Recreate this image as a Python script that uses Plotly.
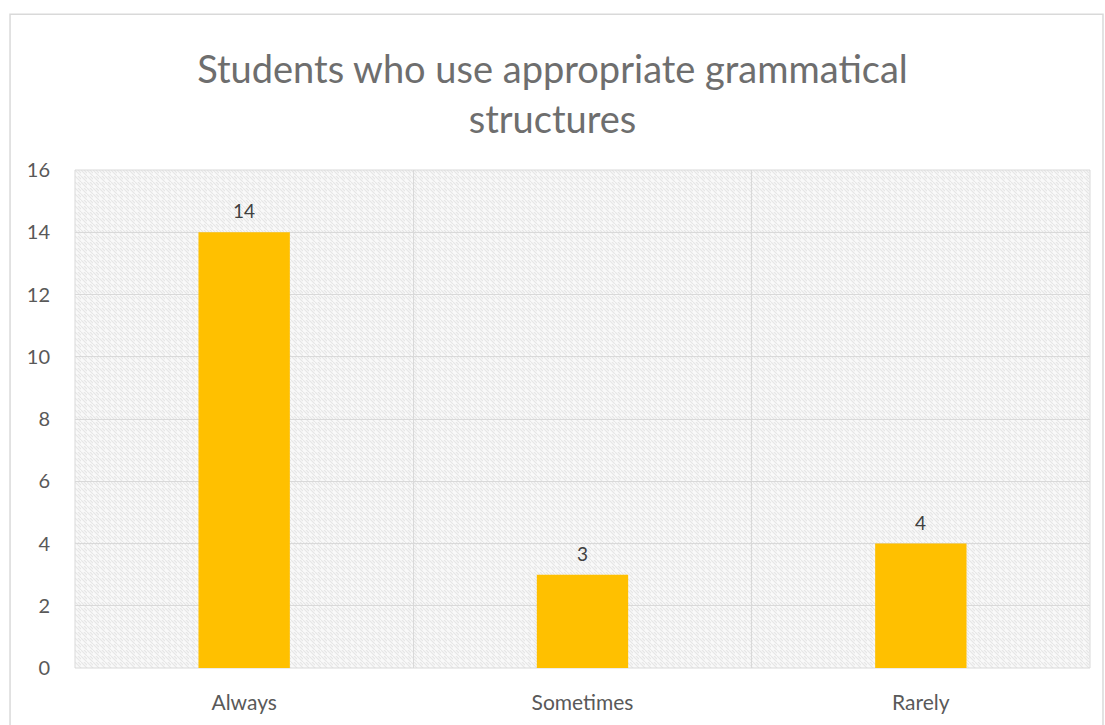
import base64
import plotly.graph_objects as go

# Survey responses
categories = ["Always", "Sometimes", "Rarely"]
students = [14, 3, 4]
y_ticks = [0, 2, 4, 6, 8, 10, 12, 14, 16]

TEXT = "#595959"
TITLE = "#6e6e6e"
GRID = "#d9d9d9"
BAR = "#FFC000"
FONT = "Lato, 'Open Sans', sans-serif"

# Fine light-grey weave texture for the plot area
svg = (
    "<svg xmlns='http://www.w3.org/2000/svg' width='1015' height='498'>"
    "<defs><pattern id='p' width='6' height='6' patternUnits='userSpaceOnUse'>"
    "<rect width='6' height='6' fill='#f9f9f9'/>"
    "<path d='M0,0 L6,6 M-3,3 L0,6 M3,0 L6,3' stroke='#e6e6e6' stroke-width='1.1'/>"
    "</pattern></defs>"
    "<rect width='1015' height='498' fill='url(#p)'/></svg>"
)
bg_uri = "data:image/svg+xml;base64," + base64.b64encode(svg.encode()).decode()

fig = go.Figure(
    go.Bar(
        x=categories,
        y=students,
        width=0.27,
        marker=dict(color=BAR, line=dict(width=0)),
        hoverinfo="x+y",
    )
)

# Value labels sitting above each bar
annotations = [
    dict(
        x=c, y=v, xref="x", yref="y",
        text=str(v), showarrow=False,
        yanchor="bottom", yshift=8,
        font=dict(family=FONT, size=19, color="#404040"),
    )
    for c, v in zip(categories, students)
]

fig.update_layout(
    width=1105,
    height=725,
    margin=dict(l=75, r=15, t=170, b=57),
    paper_bgcolor="white",
    plot_bgcolor="rgba(0,0,0,0)",
    showlegend=False,
    title=dict(
        text="Students who use appropriate grammatical<br>structures",
        x=0.5,
        xanchor="center",
        y=0.885,
        yanchor="top",
        font=dict(family=FONT, size=38, color=TITLE),
    ),
    font=dict(family=FONT, color=TEXT),
    bargap=0.73,
    annotations=annotations,
    images=[
        dict(
            source=bg_uri,
            xref="paper", yref="paper",
            x=0, y=1, sizex=1, sizey=1,
            xanchor="left", yanchor="top",
            sizing="stretch", layer="below",
        )
    ],
    shapes=[
        dict(
            type="rect", xref="paper", yref="paper",
            x0=-0.064, x1=1.0128, y0=-0.2, y1=1.313,
            line=dict(color=GRID, width=1.5), fillcolor="rgba(0,0,0,0)",
            layer="below",
        ),
        dict(
            type="rect", xref="paper", yref="paper",
            x0=0, x1=1, y0=0, y1=1,
            line=dict(color=GRID, width=1), fillcolor="rgba(0,0,0,0)",
            layer="below",
        ),
    ],
)

fig.update_xaxes(
    type="category",
    tickson="boundaries",
    showgrid=True,
    gridcolor=GRID,
    gridwidth=1,
    showline=False,
    ticks="",
    automargin=False,
    ticklabelstandoff=20,
    tickfont=dict(family=FONT, size=21, color=TEXT),
)

fig.update_yaxes(
    range=[0, 16],
    tickvals=y_ticks,
    showgrid=True,
    gridcolor=GRID,
    gridwidth=1,
    zeroline=False,
    showline=False,
    ticks="outside",
    ticklen=20,
    tickcolor="rgba(0,0,0,0)",
    tickfont=dict(family=FONT, size=20, color=TEXT),
)

fig.write_html("out.html")
